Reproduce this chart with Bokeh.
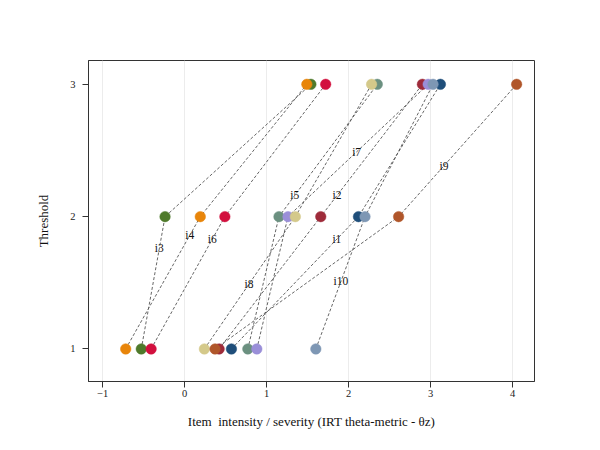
from bokeh.plotting import figure
from bokeh.models import FixedTicker, Range1d, ColumnDataSource
from bokeh.core.properties import value
from bokeh.embed import file_html
from bokeh.resources import INLINE

# ---- data ----
items = ["i1", "i2", "i3", "i4", "i5", "i6", "i7", "i8", "i9", "i10"]
thr1 = [0.57, 0.42, -0.53, -0.72, 0.77, -0.41, 0.88, 0.24, 0.37, 1.60]
thr2 = [2.12, 1.66, -0.24, 0.19, 1.15, 0.49, 1.26, 1.35, 2.61, 2.20]
thr3 = [3.12, 2.90, 1.54, 1.49, 2.35, 1.72, 2.97, 2.28, 4.05, 3.03]
thresholds = [1, 2, 3]
colors = ["#1F4E7A", "#9E2B3A", "#4F7A2B", "#E8850A", "#6B9080",
          "#D2103E", "#9A8FD8", "#D4C98A", "#B0562A", "#7E97B4"]
# label placement: lower threshold of the segment and fraction along it
label_seg = [1, 2, 1, 1, 2, 1, 2, 1, 2, 1]
label_frac = [0.83, 0.16, 0.76, 0.86, 0.16, 0.83, 0.49, 0.49, 0.385, 0.51]
x_ticks = [-1, 0, 1, 2, 3, 4]
y_ticks = [1, 2, 3]

FONT = "Liberation Serif"

p = figure(width=592, height=442, output_backend="svg", toolbar_location=None,
           x_range=Range1d(-1.174, 4.268), y_range=Range1d(0.754, 3.18),
           min_border_left=88, min_border_right=58, min_border_top=60,
           min_border_bottom=61)
p.background_fill_color = "white"
p.border_fill_color = "white"
p.outline_line_color = "#333333"
p.outline_line_width = 1

# grid
p.xgrid.grid_line_color = "#ececec"
p.xgrid.grid_line_width = 1
p.ygrid.grid_line_color = None

# axes
p.xaxis.ticker = FixedTicker(ticks=x_ticks)
p.yaxis.ticker = FixedTicker(ticks=y_ticks)
for ax in (p.xaxis[0], p.yaxis[0]):
    ax.axis_line_color = "#333333"
    ax.major_tick_line_color = "#333333"
    ax.major_tick_in = 0
    ax.major_tick_out = 6
    ax.minor_tick_line_color = None
    ax.major_label_text_font = FONT
    ax.major_label_text_font_size = "10.5px"
    ax.major_label_text_color = "#222222"
    ax.axis_label_text_font = FONT
    ax.axis_label_text_font_size = "13px"
    ax.axis_label_text_font_style = "normal"
    ax.axis_label_text_color = "#111111"
p.xaxis.axis_label = "Item\u00a0 intensity / severity (IRT theta-metric - θz)"
p.yaxis.axis_label = "Threshold"
p.xaxis.major_label_standoff = 2
p.xaxis.axis_label_standoff = 14
p.yaxis.major_label_standoff = 7
p.yaxis.axis_label_standoff = 16

# dashed connecting lines
xs = [[a, b, c] for a, b, c in zip(thr1, thr2, thr3)]
ys = [thresholds[:] for _ in items]
p.multi_line(xs=xs, ys=ys, line_color="#555555", line_width=0.9,
             line_dash="3 2")

# points, drawn item by item
for i, it in enumerate(items):
    p.scatter(x=[thr1[i], thr2[i], thr3[i]], y=thresholds, size=10.5,
              fill_color=colors[i], line_color=colors[i], line_width=0.5)

# item labels, placed along each item's segment
lx, ly = [], []
for i in range(len(items)):
    vals = [thr1[i], thr2[i], thr3[i]]
    s = label_seg[i]
    t = label_frac[i]
    x0, x1 = vals[s - 1], vals[s]
    lx.append(x0 + (x1 - x0) * t)
    ly.append(thresholds[s - 1] + (thresholds[s] - thresholds[s - 1]) * t)
src = ColumnDataSource(dict(x=lx, y=ly, text=items))
p.text(x="x", y="y", text="text", source=src, text_font=value(FONT),
       text_font_size="11.5px", text_align="center", text_baseline="middle",
       text_color="#111111")

open("out.html", "w").write(file_html(p, INLINE))
